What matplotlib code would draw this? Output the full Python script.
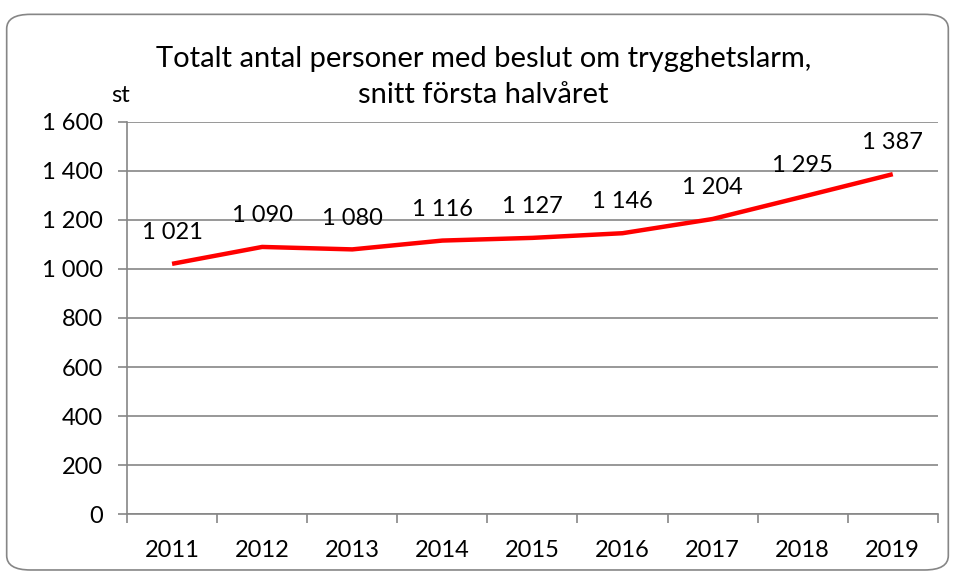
import numpy as np
import matplotlib.pyplot as plt
from matplotlib.patches import FancyBboxPatch

plt.rcParams['font.family'] = ['Lato', 'DejaVu Sans']

# Data
years = ['2011', '2012', '2013', '2014', '2015', '2016', '2017', '2018', '2019']
persons = [1021, 1090, 1080, 1116, 1127, 1146, 1204, 1295, 1387]
y_ticks = [0, 200, 400, 600, 800, 1000, 1200, 1400, 1600]
title = 'Totalt antal personer med beslut om trygghetslarm,\nsnitt första halvåret'

def sv_fmt(v):
    # Swedish thousands separator (space)
    return f'{v:,}'.replace(',', ' ')

fig = plt.figure(figsize=(9.55, 5.74), dpi=100)
ax = fig.add_axes([0.133, 0.1045, 0.849, 0.683])

x = np.arange(len(years))
ax.plot(x, persons, color='#ff0000', lw=3.2, solid_capstyle='butt', zorder=3)
for xi, v in zip(x, persons):
    ax.annotate(sv_fmt(v), (xi, v), xytext=(0, 15), textcoords='offset points',
                ha='center', va='bottom', fontsize=17)

gray = '#868686'
ax.set_xlim(-0.5, len(years) - 0.5)
ax.set_ylim(0, 1600)
ax.set_yticks(y_ticks)
ax.set_yticklabels([sv_fmt(t) for t in y_ticks], fontsize=17)
ax.yaxis.grid(True, color=gray, lw=1.2)
ax.set_axisbelow(True)

# category labels centered, tick marks between categories
ax.set_xticks(x)
ax.set_xticklabels(years, fontsize=17)
ax.tick_params(axis='x', which='major', length=0, pad=19)
ax.set_xticks(np.arange(-0.5, len(years)), minor=True)
ax.tick_params(axis='x', which='minor', length=6.5, width=1.2, color=gray, direction='out')
ax.tick_params(axis='y', length=6.5, width=1.2, color=gray, pad=11)

for s in ['top', 'right']:
    ax.spines[s].set_visible(False)
for s in ['left', 'bottom']:
    ax.spines[s].set_color(gray)
    ax.spines[s].set_linewidth(1.2)

fig.text(0.506, 0.866, title, ha='center', va='center', fontsize=21, linespacing=1.45)
fig.text(0.126, 0.833, 'st', ha='center', va='center', fontsize=17)

border = FancyBboxPatch((0.007, 0.007), 0.986, 0.968, boxstyle='round,pad=0,rounding_size=0.025',
                        transform=fig.transFigure, fill=False, edgecolor=gray, lw=1.2)
fig.patches.append(border)

fig.savefig('out.png', dpi=100)
